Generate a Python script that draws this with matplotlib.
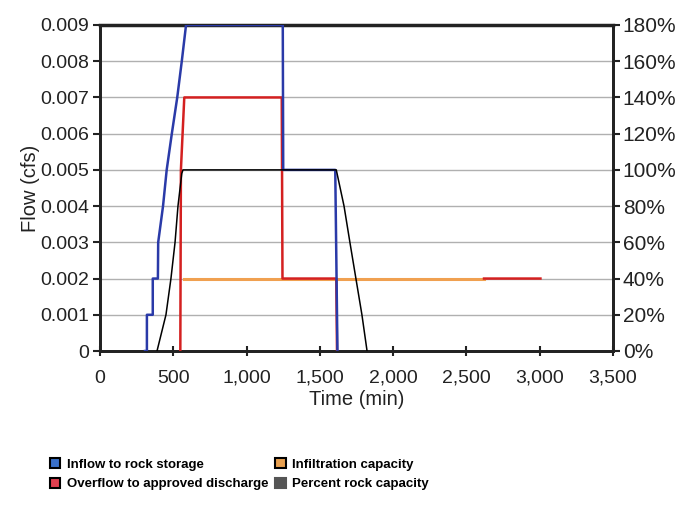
import matplotlib.pyplot as plt
from matplotlib.patches import Patch
from matplotlib.ticker import FuncFormatter, MultipleLocator

plt.rcParams['font.family'] = ['Liberation Sans', 'DejaVu Sans']

# inflow to rock storage (cfs)
inflow_t = [307, 320, 320, 360, 360, 395, 397, 430, 455, 490, 527, 558, 587, 1247, 1250, 1605, 1620]
inflow_q = [0, 0, 0.001, 0.001, 0.002, 0.002, 0.003, 0.004, 0.005, 0.006, 0.007, 0.008, 0.009, 0.009, 0.005, 0.005, 0]

# overflow to approved discharge (cfs)
overflow_t = [548, 552, 575, 1240, 1245, 1612, 1617, None, 2620, 3005]
overflow_q = [0, 0.005, 0.007, 0.007, 0.002, 0.002, 0, None, 0.002, 0.002]

# infiltration capacity (cfs)
infil_t = [570, 2620]
infil_q = [0.002, 0.002]

# percent rock capacity (right axis)
pct_t = [389, 450, 484, 512, 532, 558, 566, 1612, 1665, 1705, 1746, 1787, 1822]
pct_v = [0, 20, 40, 60, 80, 98, 100, 100, 80, 60, 40, 20, 0]

labels = ['Inflow to rock storage', 'Overflow to approved discharge',
          'Infiltration capacity', 'Percent rock capacity']


def nan(v):
    return float('nan') if v is None else v


fig = plt.figure(figsize=(6.96, 5.08), dpi=100)
ax = fig.add_axes([100 / 696, 1 - 351 / 508, 513 / 696, 326 / 508])
ax2 = ax.twinx()

ax.plot(infil_t, infil_q, color='#f0a050', lw=2.2, zorder=2)
ax2.plot([nan(t) for t in overflow_t], [nan(q) * 20000 for q in overflow_q], color='#d42020', lw=1.8, zorder=3)
ax2.plot(inflow_t, [q * 20000 for q in inflow_q], color='#2a3aa8', lw=1.8, zorder=4)
ax2.plot(pct_t, pct_v, color='black', lw=1.1, zorder=5)

ax.set_xlim(0, 3500)
ax.set_ylim(0, 0.009)
ax2.set_ylim(0, 180)
ax.xaxis.set_major_locator(MultipleLocator(500))
ax.yaxis.set_major_locator(MultipleLocator(0.001))
ax2.yaxis.set_major_locator(MultipleLocator(20))
ax.xaxis.set_major_formatter(FuncFormatter(lambda v, p: f'{v:,.0f}'))
ax.yaxis.set_major_formatter(FuncFormatter(lambda v, p: '0' if v == 0 else f'{v:.3f}'))
ax2.yaxis.set_major_formatter(FuncFormatter(lambda v, p: f'{v:.0f}%'))

ax.grid(axis='y', color='#b0b0b0', lw=1)
ax.set_axisbelow(True)
for a in (ax, ax2):
    for s in a.spines.values():
        s.set_linewidth(2)
        s.set_color('#222222')
ax2.spines['top'].set_linewidth(2.5)
ax.tick_params(axis='x', direction='inout', length=7, width=1.5, labelsize=14, pad=10, colors='#222222')
ax.tick_params(axis='y', direction='out', length=5, width=1.5, labelsize=14, pad=3, colors='#222222')
ax2.tick_params(axis='y', direction='out', length=5, width=1.5, labelsize=15, pad=2, colors='#222222')

ax.set_xlabel('Time (min)', fontsize=14.5, color='#222222', labelpad=2)
ax.set_ylabel('Flow (cfs)', fontsize=14.5, color='#222222', labelpad=0)

handles = [
    Patch(facecolor='#3a70c8', edgecolor='black', lw=1.5),
    Patch(facecolor='#e04050', edgecolor='black', lw=1.5),
    Patch(facecolor='#e8a050', edgecolor='black', lw=1.5),
    Patch(facecolor='#555555', edgecolor='#555555', lw=1.5),
]
fig.legend(handles, labels, ncol=2, frameon=False, loc='upper left',
           bbox_to_anchor=(38 / 696, 1 - 446 / 508),
           prop={'weight': 'bold', 'size': 9.5},
           handlelength=0.8, handleheight=0.8,
           handletextpad=0.5, columnspacing=0.5, labelspacing=0.55)

fig.savefig('out.png', dpi=100)
